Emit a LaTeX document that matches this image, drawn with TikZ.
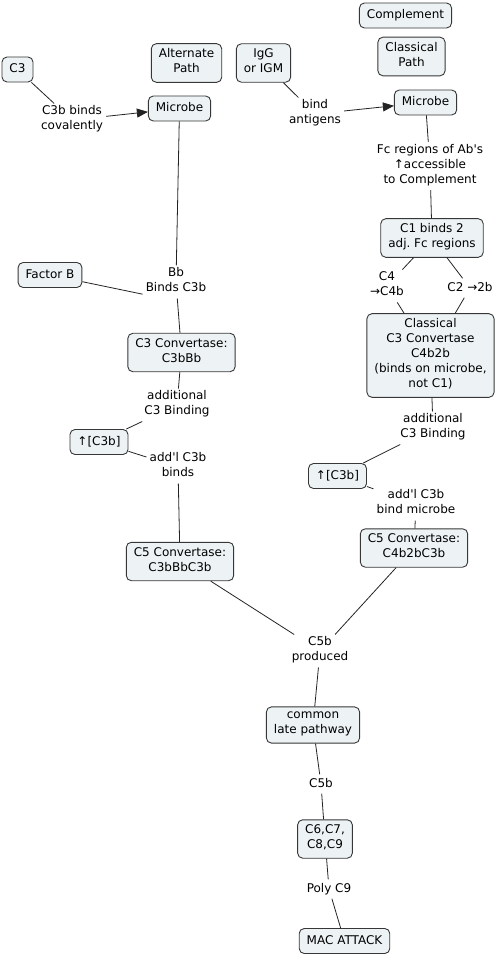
\documentclass[tikz,border=0pt]{standalone}
\usepackage{fontspec}
\setmainfont{DejaVu Sans}
\usetikzlibrary{arrows.meta,positioning}
\definecolor{conceptfill}{RGB}{237,243,245}
\definecolor{conceptline}{RGB}{55,55,55}
\definecolor{linkline}{RGB}{35,35,35}
\tikzset{
  basebox/.style={rectangle,align=center,font=\fontsize{12}{15}\selectfont\frenchspacing,
    execute at begin node=\strut,execute at end node=\strut},
  conceptnode/.style={basebox,rounded corners=5pt,draw=conceptline,fill=conceptfill,
    line width=0.9pt,inner xsep=7.5pt,inner ysep=5pt},
  linknode/.style={basebox,inner xsep=3pt,inner ysep=2pt},
  link/.style={draw=linkline,line width=0.8pt},
  linkarr/.style={link,-{Triangle[length=11pt,width=9pt]}}
}
\newcommand{\apos}{\textquotesingle}

\begin{document}
\begin{tikzpicture}[x=1pt,y=-1pt]
  \useasboundingbox (0,0) rectangle (497,955);

  %% Headings
  \node[conceptnode] (compl) at (405.5,15.5) {Complement};
  \node[conceptnode] (clpath) at (411.5,56.5) {Classical\\Path};
  \node[conceptnode] (altpath) at (186.5,63) {Alternate\\Path};

  %% Alternate pathway
  \node[conceptnode] (c3) at (17.5,69.5) {C3};
  \node[linknode] (lcov) at (72,120) {C3b binds\\covalently};
  \node[conceptnode] (micL) at (179.5,108.5) {Microbe};
  \node[conceptnode] (fb) at (50,275) {Factor B};
  \node[linknode] (lbb) at (176,282) {Bb\\Binds C3b};
  \node[conceptnode] (c3conv) at (181.5,352.5) {C3 Convertase:\\C3bBb};
  \node[linknode] (laddL) at (177,405) {additional\\C3 Binding};
  \node[conceptnode] (upL) at (99,442) {↑[C3b]};
  \node[linknode] (lbindsL) at (178,467) {add\apos l C3b\\binds};
  \node[conceptnode] (c5L) at (180,561.5) {C5 Convertase:\\C3bBbC3b};

  %% Classical pathway
  \node[conceptnode] (igg) at (263.5,63) {IgG\\or IGM};
  \node[linknode] (lbind) at (315,114) {bind\\antigens};
  \node[conceptnode] (micR) at (425.5,102.5) {Microbe};
  \node[linknode] (lfc) at (430,166) {Fc regions of Ab\apos s\\↑accessible\\to Complement};
  \node[conceptnode] (c1) at (432,238) {C1 binds 2\\adj. Fc regions};
  \node[linknode] (lc4) at (387,286) {C4\\→C4b};
  \node[linknode] (lc2) at (470,288) {C2 →2b};
  \node[conceptnode] (clconv) at (430.5,355.5)
    {Classical\\C3 Convertase\\C4b2b\\(binds on microbe,\\not C1)};
  \node[linknode] (laddR) at (433,428) {additional\\C3 Binding};
  \node[conceptnode] (upR) at (337.5,476) {↑[C3b]};
  \node[linknode] (lbindsR) at (416,504) {add\apos l C3b\\bind microbe};
  \node[conceptnode] (c5R) at (414,548) {C5 Convertase:\\C4b2bC3b};

  %% Late pathway
  \node[linknode] (lc5b) at (320,651) {C5b\\produced};
  \node[conceptnode] (common) at (313,725) {common\\late pathway};
  \node[linknode] (lc5bb) at (321,784) {C5b};
  \node[conceptnode] (c6) at (325,839) {C6,C7,\\C8,C9};
  \node[linknode] (lpoly) at (329,889) {Poly C9};
  \node[conceptnode] (mac) at (344.5,941) {MAC ATTACK};

  \draw[link] (c3) -- (lcov);
  \draw[linkarr] (lcov) -- (micL);
  \draw[link] (micL) -- (lbb);
  \draw[link] (fb) -- (lbb.200);
  \draw[link] (lbb) -- (c3conv);
  \draw[link] (c3conv) -- (laddL);
  \draw[link] (laddL) -- (upL);
  \draw[link] (upL) -- (lbindsL);
  \draw[link] (lbindsL) -- (c5L);

  \draw[link] (igg) -- (lbind);
  \draw[linkarr] (lbind) -- (micR);
  \draw[link] (micR) -- (lfc);
  \draw[link] (lfc) -- (c1);
  \draw[link] (c1) -- (lc4);
  \draw[link] (lc4) -- (clconv);
  \draw[link] (c1) -- (lc2);
  \draw[link] (lc2) -- (clconv);
  \draw[link] (clconv) -- (laddR);
  \draw[link] (laddR) -- (upR);
  \draw[link] (upR) -- (lbindsR);
  \draw[link] (lbindsR) -- (c5R);

  \draw[link] (c5L) -- (lc5b);
  \draw[link] (c5R) -- (lc5b);
  \draw[link] (lc5b) -- (common);
  \draw[link] (common) -- (lc5bb);
  \draw[link] (lc5bb) -- (c6);
  \draw[link] (c6) -- (lpoly);
  \draw[link] (lpoly) -- (mac);
\end{tikzpicture}
\end{document}
